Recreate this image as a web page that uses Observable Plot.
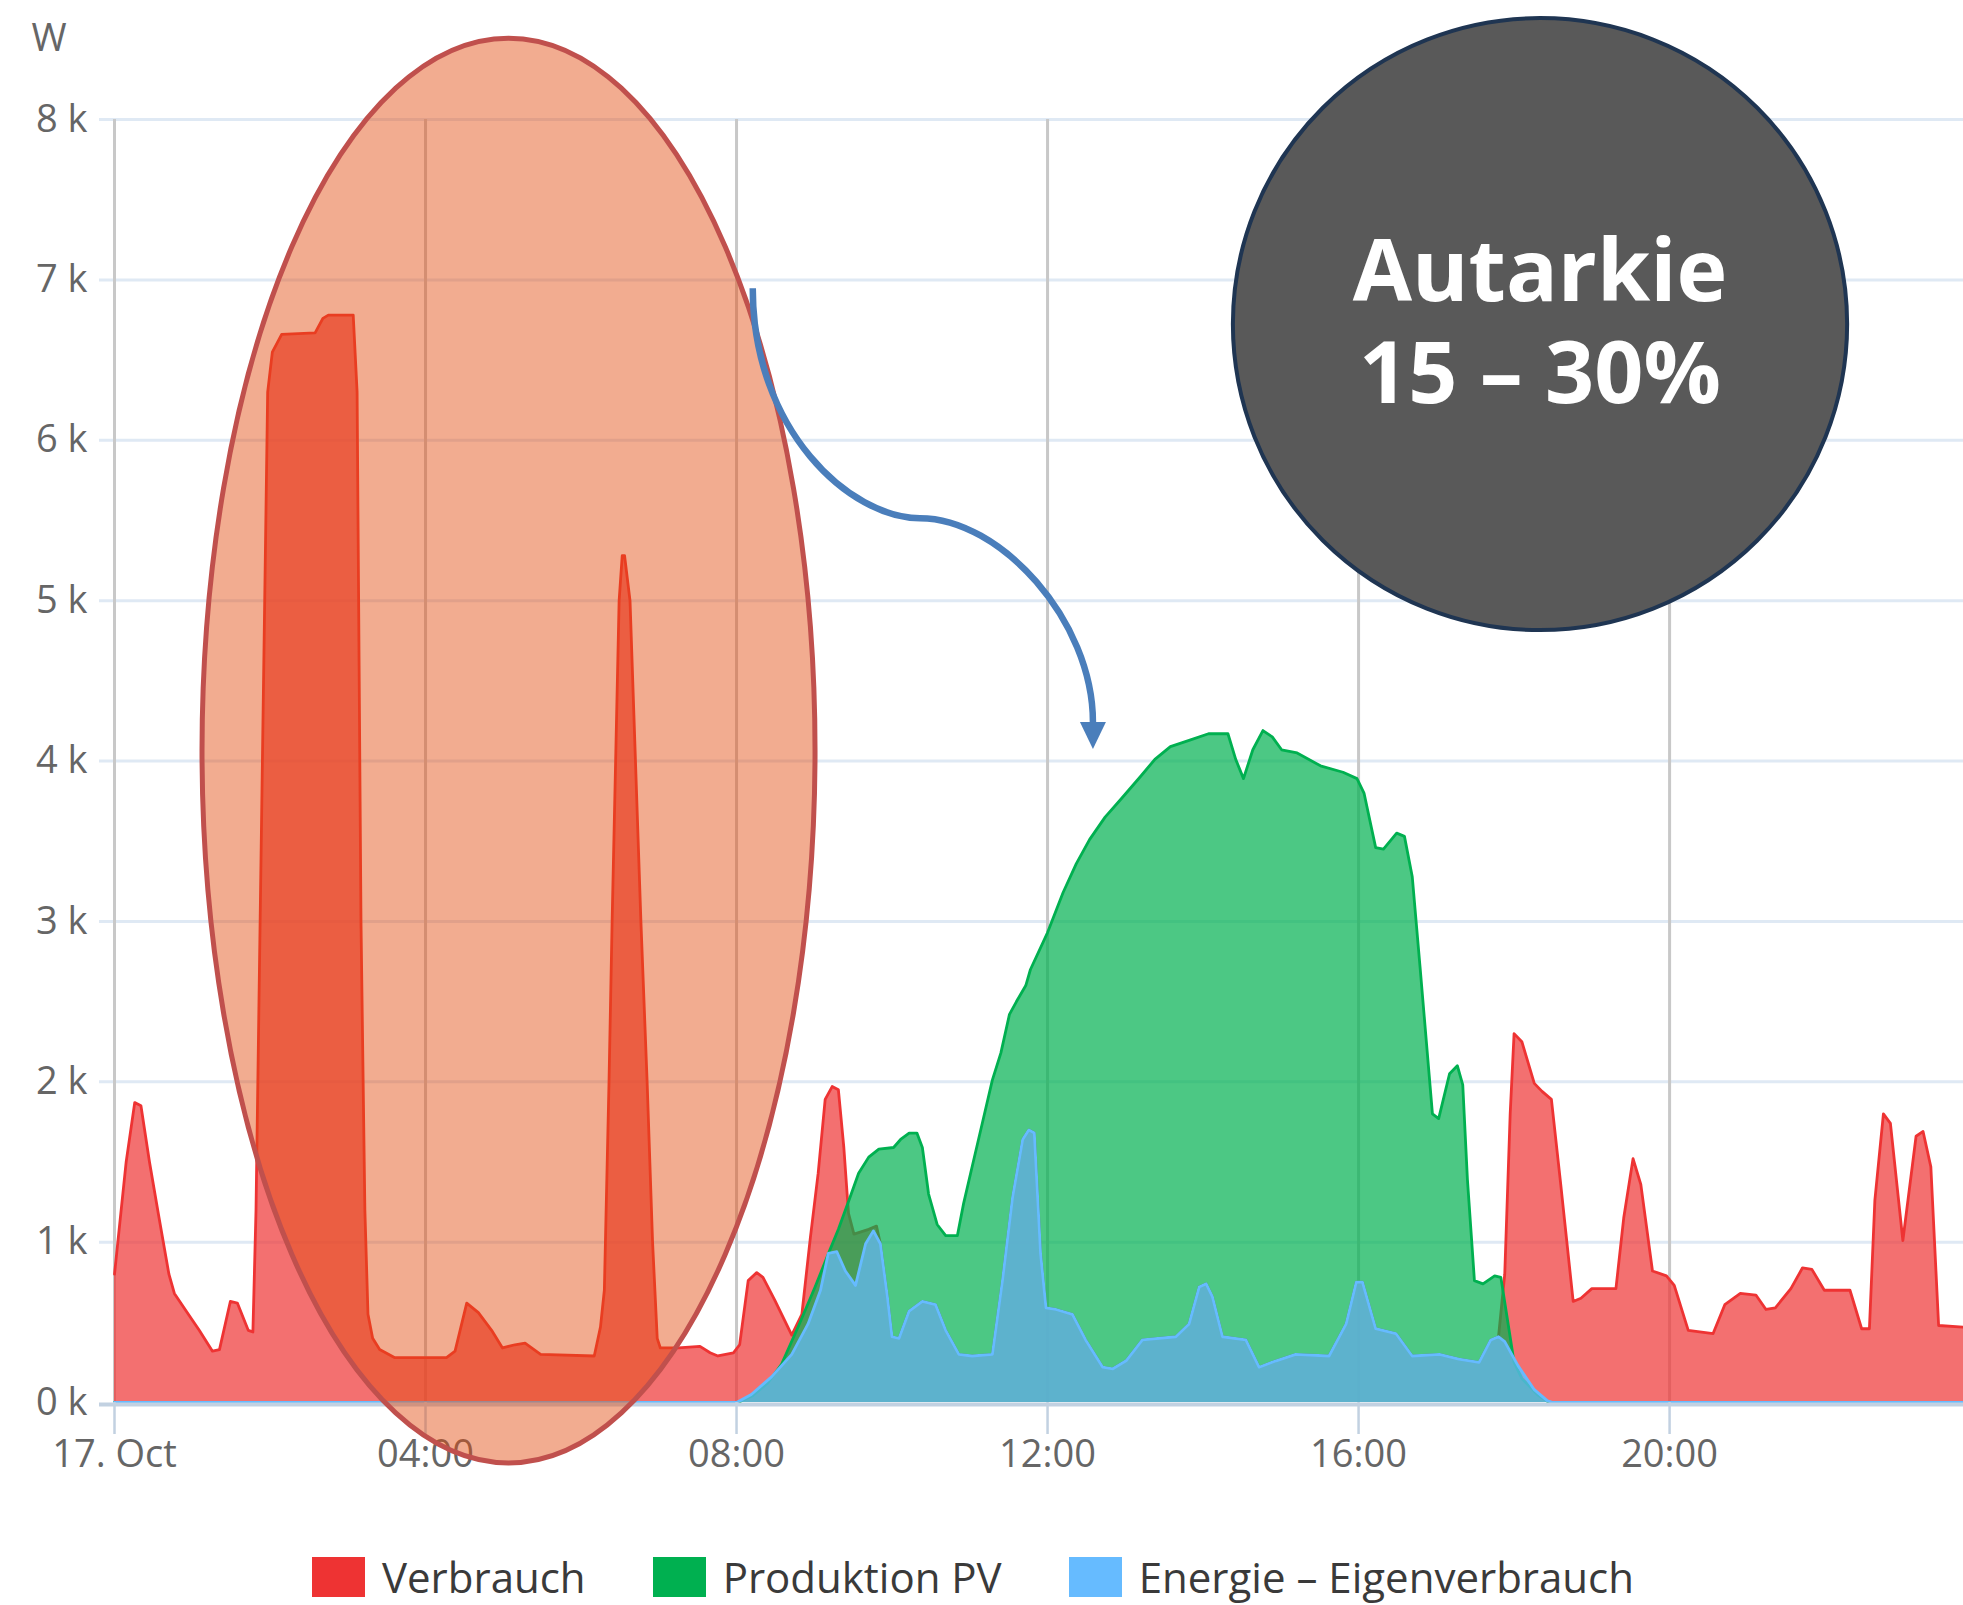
<!DOCTYPE html>
<html><head><meta charset="utf-8">
<script src="https://cdn.jsdelivr.net/npm/d3@7"></script>
<script src="https://cdn.jsdelivr.net/npm/@observablehq/plot@0.6"></script>
<style>
html,body{margin:0;padding:0;background:#fff;width:1963px;height:1605px;overflow:hidden;font-family:"Open Sans",sans-serif}
#chart svg{display:block}
#legend{position:absolute;top:1557px;left:312px;display:flex;gap:67px;align-items:center}
.item{display:flex;align-items:center;gap:17px;font-size:42px;color:#3a3a3a;line-height:40px;white-space:nowrap}
.sw{width:53px;height:40px}
</style></head><body>
<div id="chart"></div>
<div id="legend"></div>
<script>
// ---- data (hour of day, W) ----
const seriesNames = ["Verbrauch", "Produktion PV", "Energie – Eigenverbrauch"];
const yTicks = [0, 1000, 2000, 3000, 4000, 5000, 6000, 7000, 8000];
const yTickLabels = ["0 k", "1 k", "2 k", "3 k", "4 k", "5 k", "6 k", "7 k", "8 k"];
const xTicks = [0, 4, 8, 12, 16, 20];
const xTickLabels = ["17. Oct", "04:00", "08:00", "12:00", "16:00", "20:00"];
const yUnit = "W";
const badgeLines = ["Autarkie", "15 – 30%"];

const verbrauch = [
  [0, 800], [0.15, 1500], [0.26, 1870], [0.34, 1850], [0.45, 1500], [0.57, 1160], [0.7, 800], [0.77, 680],
  [0.95, 550], [1.09, 450], [1.26, 320], [1.35, 330], [1.49, 630], [1.58, 620], [1.72, 450], [1.78, 440],
  [1.82, 1200], [1.97, 6300], [2.03, 6550], [2.15, 6660], [2.58, 6670], [2.68, 6760], [2.75, 6780], [3.07, 6780],
  [3.12, 6300], [3.17, 3000], [3.22, 1200], [3.26, 550], [3.32, 400], [3.41, 330], [3.6, 280], [4.27, 280],
  [4.38, 320], [4.53, 620], [4.68, 560], [4.85, 450], [4.99, 340], [5.15, 360], [5.28, 370], [5.48, 300],
  [6.17, 290], [6.25, 470], [6.3, 700], [6.36, 2000], [6.4, 3000], [6.49, 5000], [6.53, 5280], [6.56, 5280],
  [6.63, 5000], [6.77, 3000], [6.85, 2000], [6.92, 1000], [6.98, 400], [7.02, 340], [7.25, 340], [7.53, 350],
  [7.66, 310], [7.76, 290], [7.96, 310], [8.04, 360], [8.15, 760], [8.26, 810], [8.34, 780], [8.49, 640],
  [8.62, 510], [8.71, 420], [8.84, 550], [8.95, 1030], [9.05, 1430], [9.14, 1890], [9.23, 1970], [9.31, 1950],
  [9.38, 1590], [9.44, 1180], [9.51, 1050], [9.7, 1080], [9.8, 1100], [9.85, 990], [9.94, 660], [10.0, 410],
  [10.09, 400], [10.22, 570], [10.39, 630], [10.56, 610], [10.69, 450], [10.86, 300], [11.03, 290], [11.29, 300],
  [11.42, 760], [11.55, 1280], [11.68, 1640], [11.76, 1700], [11.83, 1680], [11.91, 930], [11.98, 590], [12.11, 580],
  [12.32, 550], [12.49, 390], [12.71, 220], [12.84, 210], [13.01, 260], [13.22, 390], [13.65, 410], [13.82, 490],
  [13.95, 720], [14.04, 740], [14.12, 660], [14.25, 410], [14.55, 390], [14.72, 220], [14.94, 260], [15.19, 300],
  [15.62, 290], [15.84, 490], [15.97, 750], [16.05, 750], [16.22, 460], [16.48, 430], [16.69, 290], [17.04, 300],
  [17.29, 270], [17.55, 250], [17.7, 390], [17.8, 410], [17.88, 800], [17.95, 1800], [18.0, 2300], [18.1, 2250],
  [18.26, 1990], [18.36, 1940], [18.48, 1890], [18.6, 1360], [18.76, 630], [18.86, 650], [19.0, 710], [19.31, 710],
  [19.41, 1150], [19.53, 1520], [19.63, 1360], [19.78, 820], [19.96, 790], [20.06, 730], [20.24, 450], [20.56, 430],
  [20.71, 610], [20.91, 680], [21.11, 670], [21.24, 580], [21.36, 590], [21.56, 710], [21.71, 840], [21.83, 830],
  [21.99, 700], [22.14, 700], [22.32, 700], [22.47, 460], [22.57, 460], [22.64, 1260], [22.75, 1800], [22.84, 1740],
  [23.0, 1010], [23.17, 1660], [23.26, 1690], [23.36, 1470], [23.46, 480], [23.78, 470]
];

const produktionPV = [
  [0, 0], [8.02, 0], [8.2, 40], [8.4, 120], [8.58, 240], [8.8, 480], [9.01, 720], [9.2, 950], [9.31, 1080],
  [9.46, 1280], [9.57, 1430], [9.7, 1530], [9.83, 1580], [10.02, 1590], [10.11, 1640], [10.22, 1680], [10.32, 1680],
  [10.39, 1590], [10.47, 1300], [10.58, 1110], [10.69, 1040], [10.84, 1040], [10.92, 1240], [11.03, 1470], [11.16, 1740],
  [11.29, 2010], [11.4, 2180], [11.51, 2420], [11.6, 2500], [11.72, 2600], [11.78, 2700], [12.0, 2930], [12.2, 3180],
  [12.37, 3360], [12.54, 3510], [12.74, 3650], [12.94, 3760], [13.19, 3900], [13.38, 4010], [13.58, 4090], [13.83, 4130],
  [14.07, 4170], [14.32, 4170], [14.42, 4010], [14.52, 3890], [14.64, 4070], [14.77, 4190], [14.89, 4150], [15.01, 4070],
  [15.21, 4050], [15.51, 3970], [15.8, 3930], [15.98, 3890], [16.07, 3800], [16.22, 3460], [16.32, 3450], [16.49, 3550],
  [16.59, 3530], [16.69, 3280], [16.79, 2720], [16.95, 1800], [17.03, 1770], [17.17, 2050], [17.27, 2100], [17.34, 1980],
  [17.4, 1390], [17.49, 760], [17.6, 740], [17.75, 790], [17.83, 780], [17.92, 500], [18.0, 250], [18.1, 150],
  [18.3, 50], [18.45, 0], [23.78, 0]
];

const eigenverbrauch = [
  [0, 0], [8.0, 0], [8.19, 50], [8.45, 160], [8.71, 300], [8.92, 490], [9.08, 700], [9.18, 930], [9.29, 940],
  [9.4, 820], [9.53, 730], [9.66, 990], [9.76, 1070], [9.85, 990], [9.94, 660], [10.0, 410], [10.09, 400],
  [10.22, 570], [10.39, 630], [10.56, 610], [10.69, 450], [10.86, 300], [11.03, 290], [11.29, 300], [11.42, 760],
  [11.55, 1280], [11.68, 1640], [11.76, 1700], [11.83, 1680], [11.91, 930], [11.98, 590], [12.11, 580], [12.32, 550],
  [12.49, 390], [12.71, 220], [12.84, 210], [13.01, 260], [13.22, 390], [13.65, 410], [13.82, 490], [13.95, 720],
  [14.04, 740], [14.12, 660], [14.25, 410], [14.55, 390], [14.72, 220], [14.94, 260], [15.19, 300], [15.62, 290],
  [15.84, 490], [15.97, 750], [16.05, 750], [16.22, 460], [16.48, 430], [16.69, 290], [17.04, 300], [17.29, 270],
  [17.55, 250], [17.7, 390], [17.8, 410], [17.88, 380], [18.05, 230], [18.26, 80], [18.43, 10], [18.5, 0], [23.78, 0]
];

// ---- annotations (in data units: hour, W) ----
const highlightEllipse = {h: 5.074, w: 4062, dh: 3.942, dw: 4442};
const badgeCircle = {h: 18.34, w: 6721, dh: 3.95, dw: 1908};
const badgeBaselines = [6866, 6228];
const arrowPath = {start: [8.215, 6945], c1: [8.215, 6060], c2: [9.466, 5511], mid: [10.366, 5511],
  c3: [11.395, 5511], c4: [12.59, 4875], end: [12.59, 4240], tip: [12.59, 4071]};

// ---- styles ----
const colors = ["#ee3333", "#00b050", "#66bbff"];
const series = [verbrauch, produktionPV, eigenverbrauch];
const labelFont = 38;

const areaMarks = [];
series.forEach((s, i) => {
  areaMarks.push(Plot.areaY(s, {x: d => d[0], y: d => d[1], fill: colors[i], fillOpacity: 0.7}));
  areaMarks.push(Plot.lineY(s, {x: d => d[0], y: d => d[1], stroke: colors[i], strokeWidth: 2.8}));
});

const chart = Plot.plot({
  width: 1963, height: 1500,
  marginLeft: 114, marginRight: 0, marginTop: 119, marginBottom: 98,
  x: {domain: [0, 23.78], axis: null},
  y: {domain: [0, 8000], axis: null},
  style: {fontFamily: "'Open Sans', sans-serif", background: "#fff", overflow: "visible"},
  marks: [
    Plot.ruleY(yTicks.slice(1), {stroke: "#dfe9f4", strokeWidth: 3, insetLeft: -15}),
    Plot.ruleX(xTicks, {stroke: "#c8c8c8", strokeWidth: 3}),
    ...areaMarks,
    Plot.ruleY([0], {stroke: "#c2d1e1", strokeWidth: 4, insetLeft: -15, dy: 2}),
    Plot.ruleX(xTicks, {y1: 0, y2: 0, insetBottom: -32, stroke: "#c2d1e1", strokeWidth: 2.5}),
    Plot.text(yTicks, {y: d => d, text: (d, i) => yTickLabels[i], frameAnchor: "left", textAnchor: "end", dx: -27,
      fontSize: labelFont, fill: "#666"}),
    Plot.text(xTicks, {x: d => d, text: (d, i) => xTickLabels[i], frameAnchor: "bottom", dy: 64,
      fontSize: labelFont, fill: "#666"}),
    Plot.text([yUnit], {text: d => d, frameAnchor: "top-left", dx: -83, dy: -95, textAnchor: "start",
      fontSize: labelFont, fill: "#666"})
  ]
});
document.getElementById("chart").appendChild(chart);

// ---- overlay annotations through the plot's scales ----
const X = chart.scale("x").apply, Y = chart.scale("y").apply;
const svg = d3.select(chart);
const e = highlightEllipse;
svg.append("ellipse")
  .attr("cx", X(e.h)).attr("cy", Y(e.w))
  .attr("rx", X(e.h + e.dh) - X(e.h)).attr("ry", Y(e.w - e.dw) - Y(e.w))
  .attr("fill", "#e34b0e").attr("fill-opacity", 0.46)
  .attr("stroke", "#c0504d").attr("stroke-width", 5);

const c = badgeCircle;
svg.append("ellipse")
  .attr("cx", X(c.h)).attr("cy", Y(c.w))
  .attr("rx", X(c.h + c.dh) - X(c.h)).attr("ry", Y(c.w - c.dw) - Y(c.w))
  .attr("fill", "#595959").attr("stroke", "#1f3552").attr("stroke-width", 4);
const badgeText = svg.append("text")
  .attr("text-anchor", "middle")
  .attr("font-family", "'Open Sans', sans-serif").attr("font-weight", 700).attr("font-size", 86)
  .attr("fill", "#ffffff");
badgeLines.forEach((t, i) => {
  badgeText.append("tspan").text(t).attr("x", X(c.h)).attr("y", Y(badgeBaselines[i]));
});

const a = arrowPath, P = p => [X(p[0]), Y(p[1])];
const pathD = `M${P(a.start)} C${P(a.c1)} ${P(a.c2)} ${P(a.mid)} C${P(a.c3)} ${P(a.c4)} ${P(a.end)}`;
svg.append("path").attr("d", pathD).attr("fill", "none")
  .attr("stroke", "#4a7ebb").attr("stroke-width", 6.5);
const [ex, ey] = P(a.end), [tx, ty] = P(a.tip);
svg.append("polygon")
  .attr("points", `${ex - 13},${ey} ${ex + 13},${ey} ${tx},${ty}`)
  .attr("fill", "#4a7ebb");

// ---- legend ----
const legend = d3.select("#legend");
seriesNames.forEach((n, i) => {
  const it = legend.append("div").attr("class", "item");
  it.append("div").attr("class", "sw").style("background", colors[i]);
  it.append("span").text(n);
});
</script></body></html>
